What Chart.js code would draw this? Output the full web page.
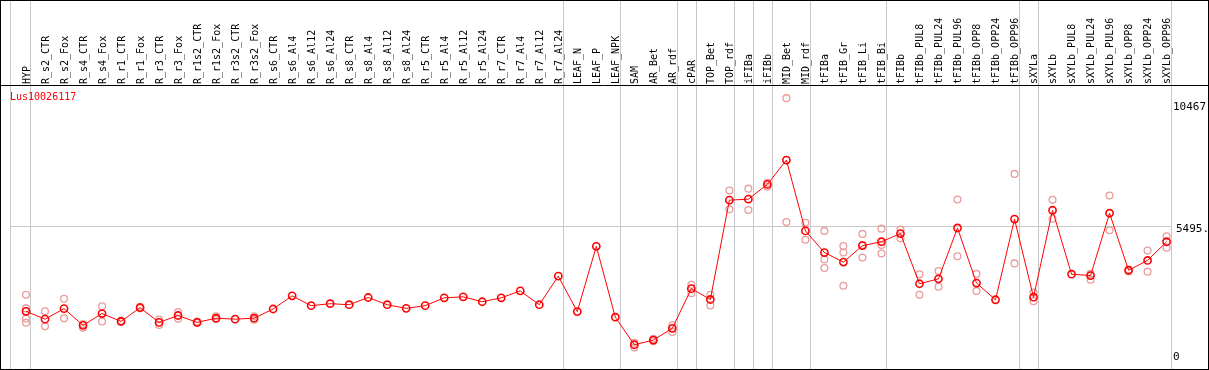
<!DOCTYPE html>
<html>
<head>
<meta charset="utf-8">
<script src="https://cdn.jsdelivr.net/npm/chart.js@4/dist/chart.umd.min.js"></script>
<style>
  html, body { margin: 0; padding: 0; background: #fff; }
  #wrap { width: 1209px; height: 370px; }
</style>
</head>
<body>
<div id="wrap"><canvas id="c" width="1209" height="370"></canvas></div>
<script>
const geneName = 'Lus10026117';

const categories = [
  'HYP','R_s2_CTR','R_s2_Fox','R_s4_CTR','R_s4_Fox','R_r1_CTR','R_r1_Fox','R_r3_CTR','R_r3_Fox',
  'R_r1s2_CTR','R_r1s2_Fox','R_r3s2_CTR','R_r3s2_Fox','R_s6_CTR','R_s6_Al4','R_s6_Al12','R_s6_Al24',
  'R_s8_CTR','R_s8_Al4','R_s8_Al12','R_s8_Al24','R_r5_CTR','R_r5_Al4','R_r5_Al12','R_r5_Al24',
  'R_r7_CTR','R_r7_Al4','R_r7_Al12','R_r7_Al24','LEAF_N','LEAF_P','LEAF_NPK','SAM','AR_Bet','AR_rdf',
  'cPAR','TOP_Bet','TOP_rdf','iFIBa','iFIBb','MID_Bet','MID_rdf','tFIBa','tFIB_Gr','tFIB_Li','tFIB_Bi',
  'tFIBb','tFIBb_PUL8','tFIBb_PUL24','tFIBb_PUL96','tFIBb_OPP8','tFIBb_OPP24','tFIBb_OPP96',
  'sXYLa','sXYLb','sXYLb_PUL8','sXYLb_PUL24','sXYLb_PUL96','sXYLb_OPP8','sXYLb_OPP24','sXYLb_OPP96'
];

const meanValues = [
  1916, 1586, 2027, 1327, 1821, 1491, 2068, 1450, 1739,
  1450, 1627, 1586, 1627, 2011, 2563, 2151, 2233,
  2192, 2493, 2192, 2039, 2151, 2480, 2521, 2315,
  2480, 2769, 2192, 3387, 1903, 4635, 1669, 515, 709, 1203,
  2863, 2410, 6571, 6613, 7231, 8248, 5282, 4375, 3976, 4664, 4829,
  5171, 3069, 3275, 5405, 3098, 2398, 5776,
  2505, 6147, 3469, 3411, 6023, 3634, 4046, 4829
];

const rep1 = [
  2604, 1916, 2439, 1380, 2122, 1524, 2101, 1574, 1887,
  1483, 1710, null, 1710, null, null, null, null,
  null, null, null, null, null, null, null, null,
  null, null, null, null, null, null, null, 600, 762, 1327,
  3028, 2604, 6971, 7053, 7301, 10844, 5624, 5282, 4647, 5158, 5377,
  5335, 3469, 3605, 6600, 3481, null, 7671,
  2699, 6584, null, 3481, 6765, 3667, 4458, 5059
];
const rep2 = [
  2036, 1285, 1627, 1228, 1491, 1463, 2039, 1339, 1599,
  1421, 1586, null, 1566, null, null, null, null,
  null, null, null, null, null, null, null, null,
  null, null, null, null, null, null, null, 400, 659, 1051,
  2670, 2163, 6188, 6159, 7136, 5653, 4911, 4087, 4375, 4689, 4689,
  4977, 2604, 2946, 4223, 2769, null, 3922,
  2340, 5789, null, 3234, 5307, 3585, 3576, 4581
];
const rep3 = [
  1615, null, null, null, null, null, null, null, null,
  null, null, null, null, null, null, null, null,
  null, null, null, null, null, null, null, null,
  null, null, null, null, null, null, null, null, null, null,
  null, null, null, null, null, null, null, 3729, 2987, 4169, 4334,
  null, null, null, null, null, null, null,
  null, null, null, null, null, null, null, null
];
const rep4 = [
  1434, null, null, null, null, null, null, null, null,
  null, null, null, null, null, null, null, null,
  null, null, null, null, null, null, null, null,
  null, null, null, null, null, null, null, null, null, null,
  null, null, null, null, null, null, null, null, null, null, null,
  null, null, null, null, null, null, null,
  null, null, null, null, null, null, null, null
];

const yTickValues = [10467, 5495, 0];
const yTickLabels = ['10467', '5495.', '0'];
const gridValue = 5495;
const groupBreakAfter = [0, 28, 31, 34, 35, 37, 38, 39, 41, 45, 52, 53, 60];

const RED = '#ff0000';
const PINK = '#eb9c9c';
const GRAY = '#c8c8c8';
const MONO = '"DejaVu Sans Mono", monospace';

const decor = {
  id: 'decor',
  beforeDatasetsDraw(chart) {
    const ctx = chart.ctx;
    const xs = chart.scales.x, ys = chart.scales.y;
    ctx.save();
    ctx.strokeStyle = GRAY;
    ctx.lineWidth = 1;
    const x0 = Math.round(xs.getPixelForValue(0) - 16) + 0.5;
    ctx.beginPath(); ctx.moveTo(x0, 0); ctx.lineTo(x0, chart.height); ctx.stroke();
    groupBreakAfter.forEach(i => {
      const x = Math.round(xs.getPixelForValue(i) + 4.3) + 0.5;
      ctx.beginPath(); ctx.moveTo(x, 0); ctx.lineTo(x, chart.height); ctx.stroke();
    });
    const lastX = Math.round(xs.getPixelForValue(categories.length - 1) + 4.3) + 0.5;
    const gy = Math.round(ys.getPixelForValue(gridValue)) + 0.5;
    ctx.beginPath(); ctx.moveTo(x0, gy); ctx.lineTo(lastX, gy); ctx.stroke();
    ctx.restore();
  },
  afterDraw(chart) {
    const ctx = chart.ctx;
    const ys = chart.scales.y;
    const W = chart.width, H = chart.height;
    ctx.save();
    ctx.strokeStyle = '#000';
    ctx.lineWidth = 1;
    const hy = Math.round(chart.chartArea.top) - 0.5;
    ctx.beginPath(); ctx.moveTo(0, hy); ctx.lineTo(W, hy); ctx.stroke();
    ctx.strokeRect(0.5, 0.5, W - 1, H - 1);
    ctx.fillStyle = RED;
    ctx.font = '10px ' + MONO;
    ctx.textAlign = 'left';
    ctx.textBaseline = 'middle';
    ctx.fillText(geneName, 10, 97);
    ctx.fillStyle = '#000';
    ctx.font = '11px ' + MONO;
    yTickValues.forEach((v, k) => {
      let y = ys.getPixelForValue(v);
      let x = 1173;
      if (v === gridValue) { y += 3; x = 1176; }
      y = Math.min(y, H - 8);
      ctx.fillText(yTickLabels[k], x, y);
    });
    ctx.restore();
  }
};

const repStyle = (data, ord) => ({
  data, showLine: false, order: ord,
  pointRadius: 3.4, pointBorderWidth: 1.3,
  pointBorderColor: PINK, pointBackgroundColor: 'rgba(0,0,0,0)',
  borderColor: PINK, backgroundColor: 'rgba(0,0,0,0)'
});

new Chart(document.getElementById('c'), {
  type: 'line',
  data: {
    labels: categories,
    datasets: [
      {
        data: meanValues, order: 0,
        borderColor: RED, borderWidth: 1, tension: 0,
        pointRadius: 3.6, pointBorderWidth: 1.6,
        pointBorderColor: RED, pointBackgroundColor: 'rgba(0,0,0,0)',
        backgroundColor: 'rgba(0,0,0,0)'
      },
      repStyle(rep1, 1), repStyle(rep2, 2), repStyle(rep3, 3), repStyle(rep4, 4)
    ]
  },
  options: {
    responsive: false,
    animation: false,
    devicePixelRatio: 1,
    layout: { padding: { left: 16.5, right: 32.9, top: 0, bottom: 1 } },
    plugins: { legend: { display: false }, tooltip: { enabled: false }, title: { display: false } },
    scales: {
      x: {
        type: 'category',
        position: 'top',
        offset: true,
        grid: { display: false, drawTicks: false },
        border: { display: false },
        ticks: {
          autoSkip: false, minRotation: 90, maxRotation: 90, padding: 2, labelOffset: 13,
          color: '#000', font: { family: MONO, size: 10 }
        },
        afterFit(scale) { scale.height = 86; }
      },
      y: {
        display: false,
        min: -309, max: 11352
      }
    }
  },
  plugins: [decor]
});
</script>
</body>
</html>
